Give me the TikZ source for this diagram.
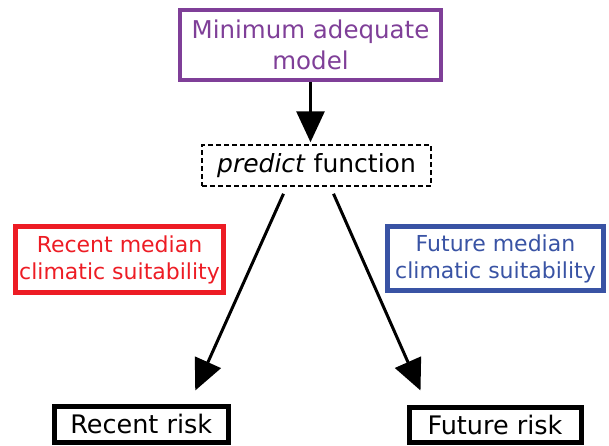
\documentclass[tikz,border=0pt]{standalone}
\usepackage{fontspec}
\setmainfont{DejaVu Sans}
\usetikzlibrary{arrows.meta}
\definecolor{mampurple}{HTML}{7F3F98}
\definecolor{recentred}{HTML}{ED1C24}
\definecolor{futureblue}{HTML}{3953A4}
\begin{document}
\begin{tikzpicture}[x=1pt,y=-1pt,
	box/.style={draw,align=center,inner sep=0pt},
	arr/.style={line width=3pt,-{Triangle[length=31pt,width=28pt]}}]
	\useasboundingbox (0,0) rectangle (609,445);
	\node[box,mampurple,line width=4pt,minimum width=261pt,minimum height=70.5pt,font=\fontsize{24.5}{31}\selectfont] (model) at (310.5,45) {Minimum adequate\\model};
	\node[box,line width=1.5pt,dash pattern=on 5pt off 3pt,minimum width=229pt,minimum height=41pt,font=\fontsize{25}{30}\selectfont] (predict) at (316.5,165.5) {\textit{predict} function};
	\node[box,recentred,line width=4.8pt,minimum width=208pt,minimum height=66pt,font=\fontsize{22}{27}\selectfont] (recentclim) at (119.5,259.5) {Recent median\\climatic suitability};
	\node[box,futureblue,line width=4.8pt,minimum width=216pt,minimum height=64pt,font=\fontsize{22}{27}\selectfont] (futureclim) at (495.5,258.5) {Future median\\climatic suitability};
	\node[box,line width=5pt,minimum width=173.5pt,minimum height=35.5pt,font=\fontsize{25.5}{30}\selectfont] (recent) at (141.25,424.25) {Recent risk};
	\node[box,line width=5pt,minimum width=172pt,minimum height=35pt,font=\fontsize{25.5}{30}\selectfont] (future) at (495,424.5) {Future risk};
	% arrows
	\draw[arr,shorten >=2pt] (model.south) -- (model.south |- predict.north);
	\draw[arr] ([xshift=-33pt,yshift=-7pt]predict.south) -- ([xshift=54pt,yshift=13.5pt]recent.north);
	\draw[arr] ([xshift=17pt,yshift=-7pt]predict.south) -- ([xshift=-74.5pt,yshift=14pt]future.north);
\end{tikzpicture}
\end{document}
